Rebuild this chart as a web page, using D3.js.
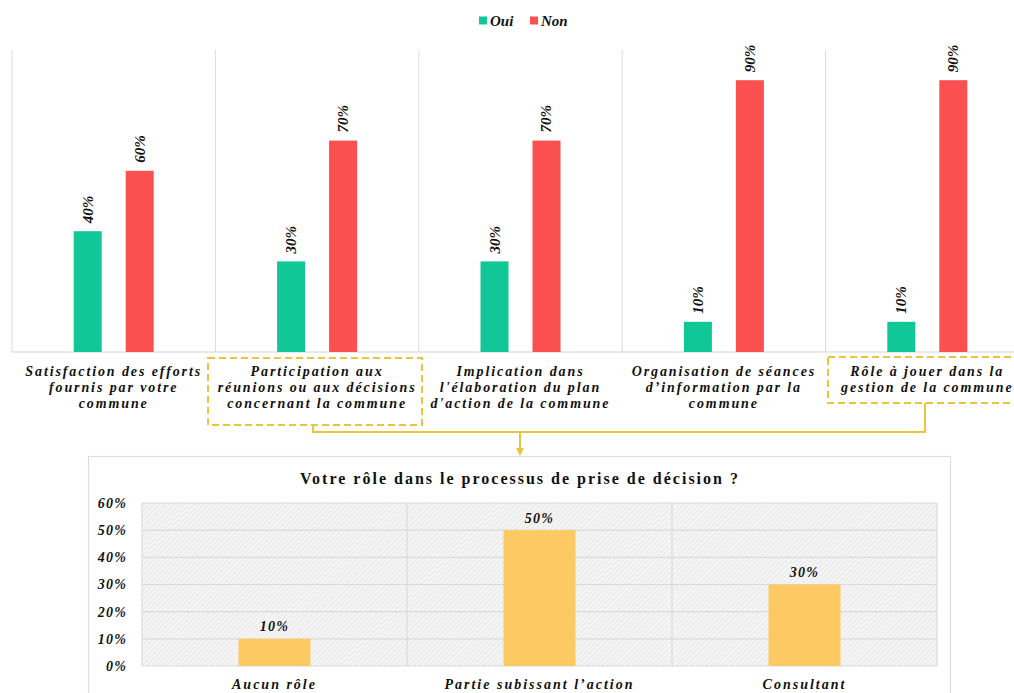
<!DOCTYPE html>
<html>
<head>
<meta charset="utf-8">
<script src="https://cdn.jsdelivr.net/npm/d3@7"></script>
<style>
  html, body { margin: 0; padding: 0; background: #fff; }
  svg { display: block; }
  text { font-family: "Liberation Serif", "Times New Roman", serif; font-weight: bold; font-style: italic; fill: #111; }
  text.upright { font-style: normal; }
</style>
</head>
<body>
<svg id="chart" width="1014" height="693"></svg>
<script>
// Top chart: yes/no answers per question
const questions = [
  ["Satisfaction des efforts", "fournis par votre", "commune"],
  ["Participation aux", "réunions ou aux décisions", "concernant la commune"],
  ["Implication dans", "l'élaboration du plan", "d'action de la commune"],
  ["Organisation de séances", "d’information par la", "commune"],
  ["Rôle à jouer dans la", "gestion de la commune"]
];
const seriesNames = ["Oui", "Non"];
const ouiValues = [40, 30, 30, 10, 10];
const nonValues = [60, 70, 70, 90, 90];
const seriesColors = ["#12c797", "#fb5050"];
// Questions highlighted and linked to the detail chart
const linkedQuestions = [1, 4];

// Bottom chart: role in the decision process
const roleTitle = "Votre rôle  dans le processus de prise de décision ?";
const roles = ["Aucun rôle", "Partie subissant l’action", "Consultant"];
const roleValues = [10, 50, 30];
const roleTicks = [0, 10, 20, 30, 40, 50, 60];

const svg = d3.select("#chart");
const defs = svg.append("defs");
const hatch = defs.append("pattern")
  .attr("id", "hatch").attr("patternUnits", "userSpaceOnUse")
  .attr("width", 3.5).attr("height", 3.5)
  .attr("patternTransform", "rotate(45)");
hatch.append("rect").attr("width", 3.5).attr("height", 3.5).attr("fill", "#f5f5f5");
hatch.append("line").attr("x1", 0).attr("y1", 0).attr("x2", 0).attr("y2", 3.5)
  .attr("stroke", "#dcdcdc").attr("stroke-width", 1);

// ---------- Legend ----------
const legend = svg.append("g").attr("transform", "translate(479,21)");
const legendOffsets = [0, 51];
seriesNames.forEach((name, i) => {
  const g = legend.append("g").attr("transform", `translate(${legendOffsets[i]},0)`);
  g.append("rect").attr("x", 0).attr("y", -4.5).attr("width", 8).attr("height", 8).attr("fill", seriesColors[i]);
  g.append("text").attr("x", 11).attr("y", 5).attr("font-size", 15).text(name);
});

// ---------- Top grouped bar chart ----------
const topArea = { left: 12, right: 1029, top: 50, bottom: 352 };
const x0 = d3.scaleBand().domain(d3.range(questions.length)).range([topArea.left, topArea.right]).padding(0);
const y0 = d3.scaleLinear().domain([0, 100]).range([topArea.bottom, topArea.top]);
const mid = x0.bandwidth() / 2;
const x1 = d3.scaleBand().domain(seriesNames).range([mid - 40, mid + 40]).paddingInner(0.4615).paddingOuter(0);

const gTop = svg.append("g");
// category separators
gTop.selectAll("line.sep").data(d3.range(questions.length + 1)).join("line")
  .attr("class", "sep")
  .attr("x1", i => i < questions.length ? x0(i) : topArea.right)
  .attr("x2", i => i < questions.length ? x0(i) : topArea.right)
  .attr("y1", topArea.top).attr("y2", topArea.bottom)
  .attr("stroke", "#dcdcdc").attr("stroke-width", 1);
gTop.append("line").attr("x1", topArea.left).attr("x2", topArea.right)
  .attr("y1", topArea.bottom).attr("y2", topArea.bottom)
  .attr("stroke", "#d4d4d4").attr("stroke-width", 1.2);

const topRows = questions.map((q, i) => ({ i, vals: [ouiValues[i], nonValues[i]] }));
const groups = gTop.selectAll("g.grp").data(topRows).join("g")
  .attr("class", "grp").attr("transform", d => `translate(${x0(d.i)},0)`);
groups.selectAll("rect").data(d => d.vals.map((v, k) => ({ k, v }))).join("rect")
  .attr("x", d => x1(seriesNames[d.k]))
  .attr("width", x1.bandwidth())
  .attr("y", d => y0(d.v))
  .attr("height", d => topArea.bottom - y0(d.v))
  .attr("fill", d => seriesColors[d.k]);
groups.selectAll("text.val").data(d => d.vals.map((v, k) => ({ k, v }))).join("text")
  .attr("class", "val")
  .attr("font-size", 15)
  .attr("text-anchor", "start")
  .attr("dominant-baseline", "central")
  .attr("transform", d => `translate(${x1(seriesNames[d.k]) + x1.bandwidth() / 2},${y0(d.v) - 8}) rotate(-90)`)
  .text(d => d.v + "%");

// category labels
const labelY0 = 371, lineH = 16;
questions.forEach((lines, i) => {
  const t = gTop.append("text").attr("text-anchor", "middle").attr("font-size", 14)
    .attr("letter-spacing", 1.9);
  lines.forEach((ln, j) => {
    t.append("tspan").attr("x", x0(i) + x0.bandwidth() / 2).attr("y", labelY0 + j * lineH)
      .attr("dominant-baseline", "central").text(ln);
  });
});

// highlighted questions: dashed boxes + connector into the detail chart
const boxColor = "#e8c53a";
const boxes = [
  { x: 208, y: 358, w: 214, h: 67 },
  { x: 828, y: 357, w: 200, h: 46 }
];
linkedQuestions.forEach((qi, k) => {
  const b = boxes[k];
  gTop.append("rect").attr("x", b.x).attr("y", b.y).attr("width", b.w).attr("height", b.h)
    .attr("fill", "none").attr("stroke", boxColor).attr("stroke-width", 2)
    .attr("stroke-dasharray", "7,4");
});
const joinY = 432;
const c1 = 313, c2 = 925, arrowX = 520;
gTop.append("path")
  .attr("d", `M${c1},${boxes[0].y + boxes[0].h} V${joinY} H${c2} V${boxes[1].y + boxes[1].h}`)
  .attr("fill", "none").attr("stroke", boxColor).attr("stroke-width", 2);
gTop.append("line").attr("x1", arrowX).attr("x2", arrowX).attr("y1", joinY).attr("y2", 449)
  .attr("stroke", boxColor).attr("stroke-width", 2);
gTop.append("path").attr("d", `M${arrowX - 4},448 L${arrowX + 4},448 L${arrowX},456 Z`).attr("fill", boxColor);

// ---------- Bottom bar chart ----------
svg.append("rect").attr("x", 88.5).attr("y", 456.5).attr("width", 862).attr("height", 260)
  .attr("fill", "#fff").attr("stroke", "#dedede").attr("stroke-width", 1.2);
svg.append("text").attr("class", "upright").attr("x", 520).attr("y", 478).attr("text-anchor", "middle")
  .attr("dominant-baseline", "central").attr("font-size", 16)
  .attr("letter-spacing", 2).text(roleTitle);

const bot = { left: 142, right: 937, top: 503, bottom: 666 };
const xb = d3.scaleBand().domain(roles).range([bot.left, bot.right]).paddingInner(0).paddingOuter(0);
const yb = d3.scaleLinear().domain([0, 60]).range([bot.bottom, bot.top]);
const gBot = svg.append("g");
gBot.append("rect").attr("x", bot.left).attr("y", bot.top)
  .attr("width", bot.right - bot.left).attr("height", bot.bottom - bot.top)
  .attr("fill", "url(#hatch)");
gBot.selectAll("line.grid").data(roleTicks).join("line")
  .attr("x1", bot.left).attr("x2", bot.right)
  .attr("y1", d => yb(d)).attr("y2", d => yb(d))
  .attr("stroke", "#dadada").attr("stroke-width", 1.2);
gBot.selectAll("line.vsep").data(roles.concat(["end"])).join("line")
  .attr("x1", (d, i) => i < roles.length ? xb(d) : bot.right)
  .attr("x2", (d, i) => i < roles.length ? xb(d) : bot.right)
  .attr("y1", bot.top).attr("y2", bot.bottom)
  .attr("stroke", "#dadada").attr("stroke-width", 1.2);

const yAxis = d3.axisLeft(yb).tickValues(roleTicks).tickFormat(d => d + "%").tickSize(0).tickPadding(15);
const ya = gBot.append("g").attr("transform", `translate(${bot.left},0)`).call(yAxis);
ya.select(".domain").remove();
ya.selectAll("text").attr("font-size", 14).attr("letter-spacing", 1.2)
  .style("font-family", "'Liberation Serif', serif").style("font-weight", "bold").style("font-style", "italic").attr("fill", "#111");

const barW = 72;
gBot.selectAll("rect.bar").data(roles).join("rect")
  .attr("class", "bar")
  .attr("x", d => xb(d) + xb.bandwidth() / 2 - barW / 2)
  .attr("width", barW)
  .attr("y", (d, i) => yb(roleValues[i]))
  .attr("height", (d, i) => bot.bottom - yb(roleValues[i]))
  .attr("fill", "#fdc963");
gBot.selectAll("text.bval").data(roles).join("text")
  .attr("class", "bval").attr("text-anchor", "middle").attr("font-size", 14).attr("letter-spacing", 1.2)
  .attr("x", d => xb(d) + xb.bandwidth() / 2)
  .attr("y", (d, i) => yb(roleValues[i]) - 12)
  .attr("dominant-baseline", "central")
  .text((d, i) => roleValues[i] + "%");
gBot.selectAll("text.cat").data(roles).join("text")
  .attr("class", "cat").attr("text-anchor", "middle").attr("font-size", 14).attr("letter-spacing", 2)
  .attr("x", d => xb(d) + xb.bandwidth() / 2)
  .attr("y", 684).attr("dominant-baseline", "central")
  .text(d => d);
</script>
</body>
</html>
